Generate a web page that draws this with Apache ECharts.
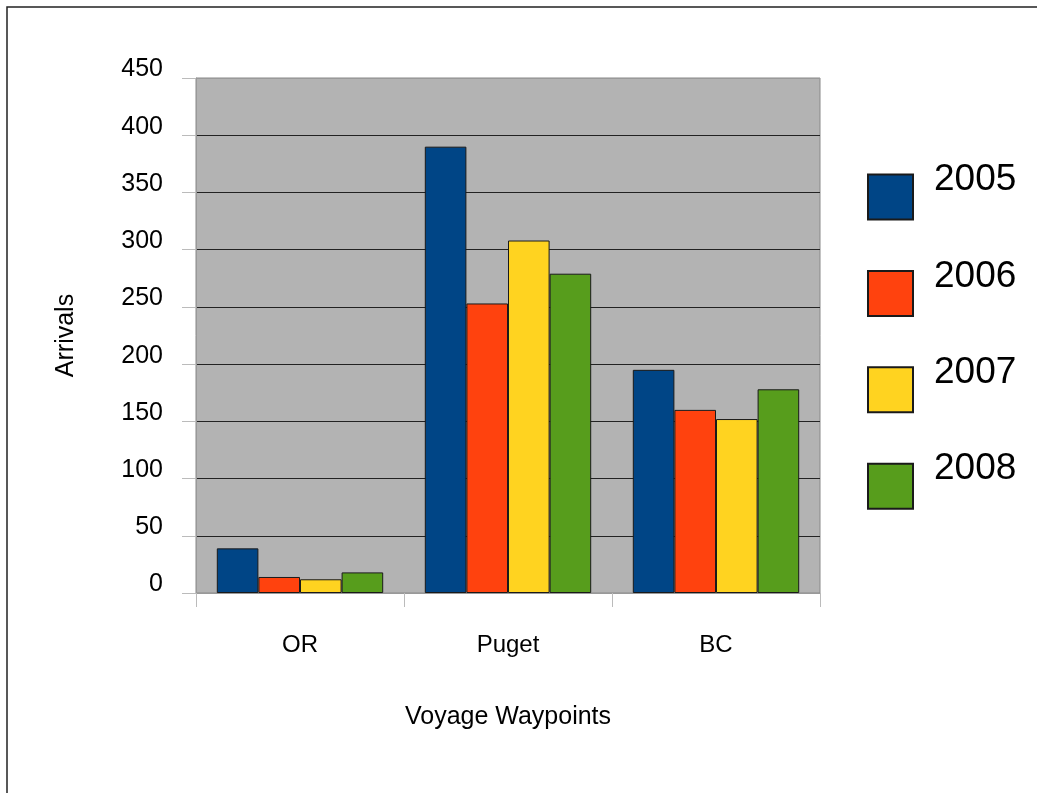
<!DOCTYPE html>
<html>
<head>
<meta charset="utf-8">
<script src="https://cdn.jsdelivr.net/npm/echarts@6/dist/echarts.min.js"></script>
<style>html,body{margin:0;padding:0;background:#fff}#c{width:1037px;height:793px}</style>
</head>
<body>
<div id="c"></div>
<script>
const categories = ['OR', 'Puget', 'BC'];
const seriesNames = ['2005', '2006', '2007', '2008'];
const values2005 = [39, 390, 195];
const values2006 = [14, 253, 160];
const values2007 = [12, 308, 152];
const values2008 = [18, 279, 178];
const colors = ['#004586', '#ff420e', '#ffd320', '#579d1c'];
const yTicks = [0, 50, 100, 150, 200, 250, 300, 350, 400, 450];

const allValues = [values2005, values2006, values2007, values2008];
const FONT = "'Liberation Sans', Arial, sans-serif";

const chart = echarts.init(document.getElementById('c'), null, {renderer: 'canvas'});
chart.setOption({
  animation: false,
  backgroundColor: '#fff',
  textStyle: {fontFamily: FONT},
  graphic: [{
    type: 'rect', z: -1,
    shape: {x: 7, y: 7, width: 1100, height: 900},
    style: {fill: 'none', stroke: '#222', lineWidth: 1.5}
  }],
  grid: {
    left: 196, right: 217, top: 78, bottom: 200,
    show: true, backgroundColor: '#b3b3b3', borderColor: '#888', borderWidth: 1
  },
  legend: {
    orient: 'vertical',
    left: 867, top: 161.5,
    padding: 0,
    itemWidth: 45, itemHeight: 45, itemGap: 37.4,
    icon: 'rect',
    data: seriesNames,
    formatter: name => '{t|' + name + '}\n{s| }',
    textStyle: {
      color: '#000', fontFamily: FONT,
      rich: {
        t: {fontSize: 37, lineHeight: 36, color: '#000', fontFamily: FONT, padding: [0, 0, 0, 16]},
        s: {fontSize: 2, lineHeight: 34}
      }
    }
  },
  xAxis: {
    type: 'category',
    data: categories,
    name: 'Voyage Waypoints',
    nameLocation: 'middle',
    nameGap: 112,
    nameTextStyle: {fontSize: 25, color: '#000', fontFamily: FONT},
    axisLine: {show: true, lineStyle: {color: '#999', width: 1}},
    axisTick: {show: true, length: 14, lineStyle: {color: '#bbb'}},
    axisLabel: {fontSize: 24, color: '#000', margin: 40, fontFamily: FONT},
    splitLine: {show: false}
  },
  yAxis: {
    type: 'value',
    min: 0, max: 450, interval: 50,
    name: 'Arrivals',
    nameLocation: 'middle',
    nameGap: 117,
    nameRotate: 90,
    nameTextStyle: {fontSize: 25, color: '#000', fontFamily: FONT},
    axisLine: {show: true, lineStyle: {color: '#999', width: 1}},
    axisTick: {show: true, length: 14, lineStyle: {color: '#bbb'}},
    axisLabel: {
      fontSize: 25, lineHeight: 17, color: '#000', margin: 33, fontFamily: FONT,
      verticalAlign: 'bottom',
      formatter: v => yTicks.includes(v) ? String(v) : ''
    },
    splitLine: {show: true, lineStyle: {color: ['#999', '#222', '#222', '#222', '#222', '#222', '#222', '#222', '#222', '#999'], width: 1}}
  },
  series: seriesNames.map((name, i) => ({
    name: name,
    type: 'bar',
    data: allValues[i],
    barGap: '0%',
    barCategoryGap: '20%',
    itemStyle: {color: colors[i], borderColor: '#1a1a1a', borderWidth: 1}
  }))
});
</script>
</body>
</html>
